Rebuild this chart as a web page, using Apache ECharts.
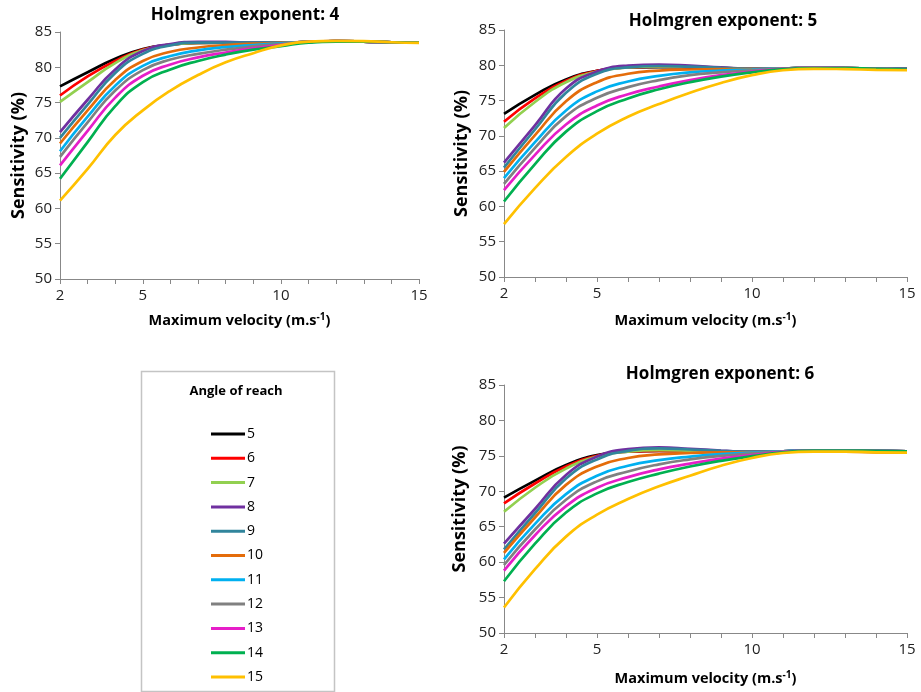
<!DOCTYPE html>
<html>
<head>
<meta charset="utf-8">
<script src="https://cdn.jsdelivr.net/npm/echarts@6/dist/echarts.min.js"></script>
<style>
  html, body { margin: 0; padding: 0; background: #fff; }
  #chart { width: 921px; height: 692px; }
</style>
</head>
<body>
<div id="chart"></div>
<script>
// angles of reach (one line each), x = maximum velocity
const angles = ['5', '6', '7', '8', '9', '10', '11', '12', '13', '14', '15'];
const velocity = [2, 3, 4, 5, 6, 7, 8, 9, 10, 11, 12, 13, 14, 15];
const xLabelValues = [2, 5, 10, 15];
const exponents = [4, 5, 6];

// sensitivity (%) for Holmgren exponent 4, one row per angle
const sensExp4 = [
    [77.3, 79.3, 81.2, 82.6, 83.2, 83.45, 83.5, 83.5, 83.5, 83.6, 83.7, 83.65, 83.55, 83.5],
    [76.0, 78.7, 80.9, 82.5, 83.2, 83.45, 83.5, 83.5, 83.5, 83.6, 83.7, 83.65, 83.55, 83.5],
    [75.1, 77.9, 80.6, 82.4, 83.2, 83.45, 83.5, 83.5, 83.5, 83.6, 83.7, 83.65, 83.55, 83.5],
    [70.8, 75.4, 79.7, 82.3, 83.3, 83.6, 83.6, 83.5, 83.5, 83.6, 83.7, 83.65, 83.55, 83.5],
    [70.0, 74.7, 79.2, 81.9, 83.1, 83.5, 83.5, 83.5, 83.5, 83.6, 83.7, 83.65, 83.55, 83.5],
    [69.2, 73.9, 78.2, 80.9, 82.2, 82.8, 83.15, 83.35, 83.45, 83.6, 83.7, 83.65, 83.55, 83.5],
    [68.1, 73.0, 77.4, 80.2, 81.6, 82.4, 82.85, 83.15, 83.4, 83.6, 83.7, 83.65, 83.55, 83.5],
    [67.3, 72.2, 76.7, 79.6, 81.1, 81.9, 82.5, 82.95, 83.3, 83.6, 83.7, 83.65, 83.55, 83.5],
    [66.1, 71.0, 75.7, 78.8, 80.4, 81.4, 82.1, 82.7, 83.15, 83.6, 83.7, 83.65, 83.55, 83.5],
    [64.2, 69.4, 74.5, 77.9, 79.7, 80.9, 81.8, 82.5, 83.0, 83.5, 83.65, 83.65, 83.55, 83.5],
    [61.1, 65.6, 70.4, 73.9, 76.7, 78.9, 80.7, 82.0, 83.1, 83.65, 83.75, 83.7, 83.55, 83.45]
];

// sensitivity (%) for Holmgren exponent 5
const sensExp5 = [
    [73.1, 75.8, 78.0, 79.2, 79.7, 79.75, 79.7, 79.6, 79.5, 79.55, 79.65, 79.6, 79.55, 79.5],
    [72.0, 75.3, 77.8, 79.2, 79.7, 79.8, 79.75, 79.6, 79.5, 79.55, 79.65, 79.6, 79.55, 79.5],
    [71.1, 74.8, 77.6, 79.1, 79.7, 79.85, 79.8, 79.65, 79.5, 79.55, 79.65, 79.6, 79.55, 79.5],
    [66.2, 71.5, 76.7, 79.1, 79.95, 80.1, 79.95, 79.7, 79.5, 79.55, 79.65, 79.6, 79.55, 79.5],
    [65.5, 70.9, 76.1, 78.8, 79.7, 79.9, 79.8, 79.65, 79.5, 79.55, 79.65, 79.6, 79.55, 79.5],
    [64.9, 70.1, 74.9, 77.6, 78.8, 79.25, 79.4, 79.45, 79.45, 79.55, 79.65, 79.6, 79.5, 79.4],
    [64.0, 69.1, 73.6, 76.3, 77.7, 78.5, 79.0, 79.25, 79.4, 79.55, 79.65, 79.6, 79.5, 79.4],
    [63.2, 68.3, 72.8, 75.4, 76.9, 77.9, 78.6, 79.0, 79.3, 79.55, 79.65, 79.6, 79.5, 79.4],
    [62.3, 67.3, 71.6, 74.3, 75.9, 77.0, 77.9, 78.6, 79.1, 79.5, 79.65, 79.6, 79.5, 79.4],
    [60.7, 66.0, 70.6, 73.5, 75.3, 76.6, 77.6, 78.4, 79.0, 79.45, 79.6, 79.6, 79.5, 79.4],
    [57.5, 62.6, 67.0, 70.3, 72.7, 74.5, 76.1, 77.5, 78.6, 79.3, 79.5, 79.45, 79.35, 79.3]
];

// sensitivity (%) for Holmgren exponent 6
const sensExp6 = [
    [69.1, 71.5, 73.7, 75.1, 75.6, 75.7, 75.65, 75.6, 75.55, 75.65, 75.75, 75.75, 75.7, 75.65],
    [68.3, 71.1, 73.5, 75.0, 75.6, 75.7, 75.65, 75.6, 75.55, 75.65, 75.75, 75.75, 75.7, 75.65],
    [67.1, 70.5, 73.2, 74.9, 75.6, 75.8, 75.75, 75.65, 75.55, 75.65, 75.75, 75.75, 75.7, 75.65],
    [62.6, 67.5, 72.3, 74.9, 75.95, 76.2, 76.0, 75.75, 75.55, 75.65, 75.75, 75.75, 75.7, 75.65],
    [61.8, 66.9, 71.8, 74.5, 75.7, 76.05, 75.9, 75.7, 75.55, 75.65, 75.75, 75.75, 75.7, 75.65],
    [61.3, 66.3, 70.9, 73.5, 74.7, 75.2, 75.4, 75.5, 75.5, 75.6, 75.65, 75.6, 75.5, 75.45],
    [60.4, 65.4, 69.6, 72.2, 73.6, 74.4, 74.9, 75.25, 75.45, 75.65, 75.75, 75.75, 75.7, 75.65],
    [59.6, 64.6, 68.8, 71.4, 72.8, 73.8, 74.5, 75.0, 75.35, 75.6, 75.75, 75.75, 75.7, 75.65],
    [58.8, 63.8, 67.9, 70.5, 72.0, 73.1, 73.9, 74.6, 75.1, 75.55, 75.75, 75.75, 75.7, 75.65],
    [57.3, 62.6, 67.0, 69.7, 71.3, 72.5, 73.5, 74.3, 74.95, 75.5, 75.75, 75.75, 75.7, 75.65],
    [53.6, 59.0, 63.6, 66.7, 68.9, 70.7, 72.2, 73.6, 74.7, 75.4, 75.6, 75.6, 75.5, 75.45]
];

const lineColors = ['#000000', '#FF0000', '#92D050', '#7030A0', '#31859C', '#E46C0A',
    '#00B0F0', '#808080', '#E61EC8', '#00B050', '#FFC000'];

const FONT = 'Open Sans';
const allSens = [sensExp4, sensExp5, sensExp6];

// panel positions (px)
const panels = [
    {left: 60, top: 32, width: 359, height: 247, titleX: 245, titleTop: 7, xGap: 33, yGap: 32},
    {left: 504, top: 30, width: 403, height: 247, titleX: 723, titleTop: 13, xGap: 35, yGap: 33},
    {left: 504, top: 385, width: 403, height: 248, titleX: 720, titleTop: 366, xGap: 37, yGap: 35}
];

const axisLineStyle = {color: '#888888', width: 1};

const grids = [], xAxes = [], yAxes = [], titles = [], series = [];
panels.forEach(function (p, i) {
    grids.push({left: p.left, top: p.top, width: p.width, height: p.height});
    titles.push({
        text: 'Holmgren exponent: ' + exponents[i],
        left: p.titleX, top: p.titleTop, textAlign: 'center', padding: 0,
        textStyle: {fontFamily: FONT, fontSize: 17, fontWeight: 'bold', color: '#000'}
    });
    xAxes.push({
        type: 'value', gridIndex: i, min: 2, max: 15, interval: 1,
        name: 'Maximum velocity (m.s{sup|-1})',
        nameLocation: 'middle', nameGap: p.xGap,
        nameTextStyle: {
            fontFamily: FONT, fontSize: 14.5, fontWeight: 'bold', color: '#000',
            rich: {sup: {fontFamily: FONT, fontSize: 10, fontWeight: 'bold', color: '#000', padding: [0, 0, 8, 0]}}
        },
        axisLine: {lineStyle: axisLineStyle},
        axisTick: {length: 5, lineStyle: axisLineStyle},
        splitLine: {show: false},
        axisLabel: {
            margin: 9, fontFamily: FONT, fontSize: 15, color: '#222',
            formatter: function (v) { return xLabelValues.indexOf(v) >= 0 ? String(v) : ''; }
        }
    });
    yAxes.push({
        type: 'value', gridIndex: i, min: 50, max: 85, interval: 5,
        name: 'Sensitivity (%)', nameLocation: 'middle', nameGap: p.yGap, nameRotate: 90,
        nameTextStyle: {fontFamily: FONT, fontSize: 18, fontWeight: 'bold', color: '#000'},
        axisLine: {show: true, lineStyle: axisLineStyle},
        axisTick: {show: true, length: 5, lineStyle: axisLineStyle},
        splitLine: {show: false},
        axisLabel: {margin: 8, fontFamily: FONT, fontSize: 15, color: '#222'}
    });
    allSens[i].forEach(function (row, k) {
        series.push({
            name: angles[k], type: 'line', xAxisIndex: i, yAxisIndex: i,
            data: velocity.map(function (v, j) { return [v, row[j]]; }),
            smooth: 0.5, showSymbol: false, symbol: 'none',
            lineStyle: {width: 2.7, color: lineColors[k]},
            itemStyle: {color: lineColors[k]}
        });
    });
});

titles.push({
    text: 'Angle of reach', left: 236, top: 385, textAlign: 'center', padding: 0,
    textStyle: {fontFamily: FONT, fontSize: 13, fontWeight: 'bold', color: '#000'}
});

const chart = echarts.init(document.getElementById('chart'));
chart.setOption({
    animation: false,
    backgroundColor: '#fff',
    color: lineColors,
    title: titles,
    grid: grids,
    xAxis: xAxes,
    yAxis: yAxes,
    legend: {
        data: angles, orient: 'vertical', left: 211, top: 427, padding: 0,
        icon: 'rect', itemWidth: 34, itemHeight: 3, itemGap: 10.3,
        textStyle: {fontFamily: FONT, fontSize: 14, color: '#000', padding: [0, 0, 0, -3]},
        selectedMode: false
    },
    graphic: [{
        type: 'rect', left: 139, top: 369,
        shape: {width: 193, height: 320},
        style: {fill: 'none', stroke: '#c4c4c4', lineWidth: 1.5}
    }],
    series: series
});
</script>
</body>
</html>
